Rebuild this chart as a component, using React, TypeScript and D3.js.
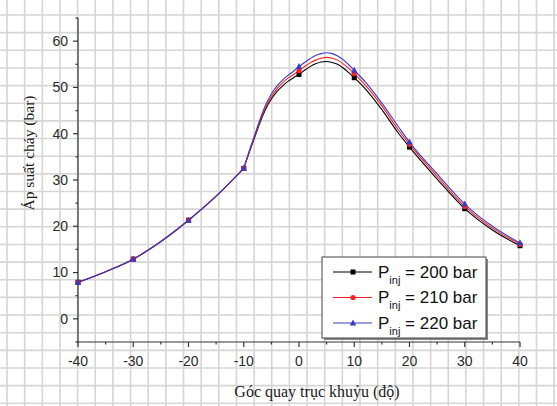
import React from 'react';
import * as d3 from 'd3';

// crank angle (deg) and combustion pressure (bar)
const angles = [-40, -35, -30, -25, -20, -15, -10, -9, -8, -7, -6, -5, -4, -3, -2, -1, 0, 1, 2, 3, 4, 5, 6, 7, 8, 9, 10, 12, 15, 18, 20, 25, 30, 35, 40];
const p200 = [7.9, 10.2, 12.9, 16.7, 21.3, 26.5, 32.5, 36.0, 39.3, 42.6, 45.4, 47.5, 49.1, 50.3, 51.3, 52.1, 52.8, 53.7, 54.5, 55.1, 55.5, 55.6, 55.4, 55.0, 54.2, 53.2, 52.1, 49.7, 45.2, 40.1, 37.1, 30.2, 23.8, 19.2, 15.8];
const p210 = [7.9, 10.2, 12.9, 16.7, 21.3, 26.5, 32.5, 36.1, 39.5, 42.9, 45.8, 48.0, 49.7, 51.0, 52.0, 52.8, 53.6, 54.5, 55.3, 55.9, 56.3, 56.5, 56.3, 55.9, 55.1, 54.1, 53.0, 50.5, 46.0, 40.8, 37.7, 30.8, 24.3, 19.6, 16.1];
const p220 = [7.9, 10.2, 12.9, 16.7, 21.3, 26.5, 32.5, 36.3, 39.8, 43.3, 46.3, 48.6, 50.3, 51.6, 52.6, 53.5, 54.5, 55.4, 56.2, 56.9, 57.3, 57.5, 57.3, 56.8, 56.0, 54.9, 53.7, 51.2, 46.6, 41.5, 38.2, 31.3, 24.8, 20.0, 16.4];
const markerAngles = [-40, -30, -20, -10, 0, 10, 20, 30, 40];
const seriesNames = ['200', '210', '220'];
// the curve has a sharp corner here (start of combustion)
const kinkAngle = -10;

const xTicks = [-40, -30, -20, -10, 0, 10, 20, 30, 40];
const xMinor = [-35, -25, -15, -5, 5, 15, 25, 35];
const yTicks = [0, 10, 20, 30, 40, 50, 60];
const yMinor = [-5, 5, 15, 25, 35, 45, 55, 65];

const W = 557;
const H = 406;

const series = [
  { name: seriesNames[0], values: p200, color: '#000000', marker: 'square' },
  { name: seriesNames[1], values: p210, color: '#ff1f1f', marker: 'circle' },
  { name: seriesNames[2], values: p220, color: '#3a3ac8', marker: 'triangle' },
];

function Marker({ type, x, y, color }: { type: string; x: number; y: number; color: string }) {
  if (type === 'square') return <rect x={x - 2.5} y={y - 2.5} width={5} height={5} fill={color} />;
  if (type === 'circle') return <circle cx={x} cy={y} r={2.6} fill={color} />;
  return <path d={`M${x},${y - 3.6}L${x + 3.2},${y + 2.4}L${x - 3.2},${y + 2.4}Z`} fill={color} />;
}

export default function App() {
  const x = d3.scaleLinear().domain([-40, 40]).range([78, 520]);
  const y = d3.scaleLinear().domain([-5, 65]).range([342, 18]);

  const line = d3
    .line<[number, number]>()
    .x((d) => x(d[0]))
    .y((d) => y(d[1]))
    .curve(d3.curveMonotoneX);

  const k = angles.indexOf(kinkAngle);
  const pathFor = (values: number[]) => {
    const pts = angles.map((a, i) => [a, values[i]] as [number, number]);
    return (line(pts.slice(0, k + 1)) || '') + (line(pts.slice(k)) || '');
  };

  const gridX = d3.range(7, W, 17.65);
  const gridY = d3.range(15, H, 17.65);

  const axisColor = '#333';
  const tickFont = '"Liberation Sans", Arial, sans-serif';
  const serif = '"Liberation Serif", "Times New Roman", serif';

  const legendX = 322;
  const legendY = 257;
  const rowGap = 25.5;

  return (
    <svg width={W} height={H} style={{ position: 'absolute', left: 0, top: 0, background: '#fff' }}>
      {/* graph-paper background */}
      <g stroke="#d5d5d5" strokeWidth={1.6}>
        {gridX.map((gx) => (
          <line key={'gx' + gx} x1={gx} x2={gx} y1={0} y2={H} />
        ))}
        {gridY.map((gy) => (
          <line key={'gy' + gy} x1={0} x2={W} y1={gy} y2={gy} />
        ))}
      </g>

      {/* axes */}
      <g stroke={axisColor} strokeWidth={1.2}>
        <line x1={x(-40)} x2={x(40)} y1={y(-5)} y2={y(-5)} />
        <line x1={x(-40)} x2={x(-40)} y1={y(-5)} y2={y(65)} />
        {xTicks.map((t) => (
          <line key={'xt' + t} x1={x(t)} x2={x(t)} y1={y(-5)} y2={y(-5) + 5} />
        ))}
        {xMinor.map((t) => (
          <line key={'xm' + t} x1={x(t)} x2={x(t)} y1={y(-5)} y2={y(-5) + 2.5} />
        ))}
        {yTicks.map((t) => (
          <line key={'yt' + t} x1={x(-40) - 5} x2={x(-40)} y1={y(t)} y2={y(t)} />
        ))}
        {yMinor.map((t) => (
          <line key={'ym' + t} x1={x(-40) - 2.5} x2={x(-40)} y1={y(t)} y2={y(t)} />
        ))}
      </g>
      <g fontFamily={tickFont} fontSize={14} fill="#2a2a2a">
        {xTicks.map((t) => (
          <text key={'xl' + t} x={x(t)} y={366} textAnchor="middle">
            {t}
          </text>
        ))}
        {yTicks.map((t) => (
          <text key={'yl' + t} x={x(-40) - 10} y={y(t)} dy="0.35em" textAnchor="end">
            {t}
          </text>
        ))}
      </g>

      <text x={317} y={397} textAnchor="middle" fontFamily={serif} fontSize={16} fill="#1a1a1a">
        Góc quay trục khuỷu (độ)
      </text>
      <text
        transform="translate(34,153) rotate(-90)"
        textAnchor="middle"
        fontFamily={serif}
        fontSize={15.5}
        fill="#1a1a1a"
      >
        Áp suất cháy (bar)
      </text>

      {/* lines */}
      {series.map((s) => (
        <path key={'l' + s.name} d={pathFor(s.values)} fill="none" stroke={s.color} strokeWidth={1.1} />
      ))}
      {/* markers */}
      {series.map((s) => (
        <g key={'m' + s.name}>
          {markerAngles.map((a) => {
            const i = angles.indexOf(a);
            return <Marker key={a} type={s.marker} x={x(a)} y={y(s.values[i])} color={s.color} />;
          })}
        </g>
      ))}

      {/* legend */}
      <rect x={legendX + 2} y={legendY + 2} width={164} height={81} fill="#888" />
      <rect x={legendX} y={legendY} width={164} height={81} fill="#fff" stroke="#444" strokeWidth={1} />
      {series.map((s, i) => {
        const ly = legendY + 15 + i * rowGap;
        return (
          <g key={'lg' + s.name}>
            <line x1={legendX + 11} x2={legendX + 50} y1={ly} y2={ly} stroke={s.color} strokeWidth={1.1} />
            <Marker type={s.marker} x={legendX + 31} y={ly} color={s.color} />
            <text x={legendX + 56} y={ly + 5.5} fontFamily={tickFont} fontSize={17} fill="#111">
              P
              <tspan fontSize={11} dy={6}>
                inj
              </tspan>
              <tspan dy={-6}>{` = ${s.name} bar`}</tspan>
            </text>
          </g>
        );
      })}
    </svg>
  );
}
